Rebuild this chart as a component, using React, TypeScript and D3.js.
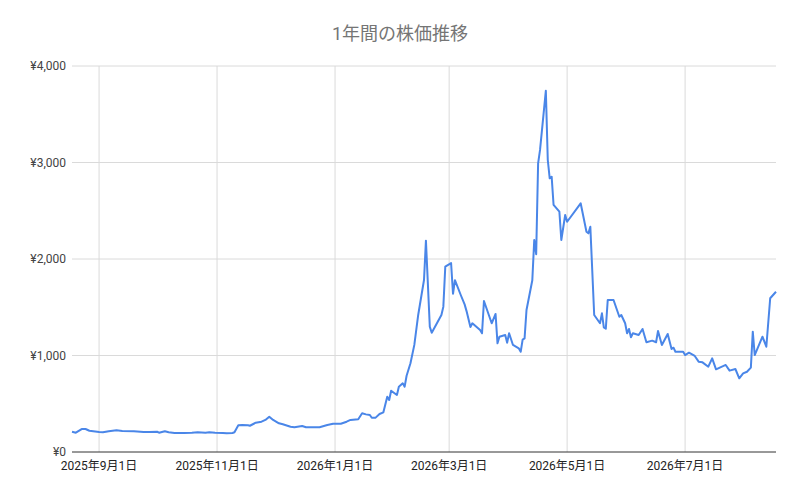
import React, { useEffect, useRef } from "react";
import * as d3 from "d3";

const dates = [
  "2025-08-18", "2025-08-20", "2025-08-23", "2025-08-25", "2025-08-27", "2025-08-29",
  "2025-09-01", "2025-09-03", "2025-09-06", "2025-09-10", "2025-09-13", "2025-09-19",
  "2025-09-24", "2025-09-27", "2025-10-01", "2025-10-02", "2025-10-05", "2025-10-07",
  "2025-10-10", "2025-10-15", "2025-10-19", "2025-10-22", "2025-10-26", "2025-10-28",
  "2025-10-31", "2025-11-04", "2025-11-06", "2025-11-09", "2025-11-10", "2025-11-12",
  "2025-11-14", "2025-11-17", "2025-11-18", "2025-11-21", "2025-11-24", "2025-11-26",
  "2025-11-28", "2025-11-30", "2025-12-03", "2025-12-05", "2025-12-09", "2025-12-11",
  "2025-12-15", "2025-12-17", "2025-12-24", "2025-12-28", "2025-12-31", "2026-01-04",
  "2026-01-07", "2026-01-09", "2026-01-13", "2026-01-15", "2026-01-17", "2026-01-19",
  "2026-01-20", "2026-01-22", "2026-01-24", "2026-01-26", "2026-01-28", "2026-01-29",
  "2026-01-30", "2026-02-02", "2026-02-03", "2026-02-05", "2026-02-06", "2026-02-07",
  "2026-02-09", "2026-02-11", "2026-02-13", "2026-02-16", "2026-02-17", "2026-02-19",
  "2026-02-20", "2026-02-25", "2026-02-26", "2026-02-27", "2026-03-02", "2026-03-03",
  "2026-03-04", "2026-03-07", "2026-03-09", "2026-03-10", "2026-03-12", "2026-03-13",
  "2026-03-17", "2026-03-18", "2026-03-19", "2026-03-23", "2026-03-25", "2026-03-26",
  "2026-03-27", "2026-03-30", "2026-03-31", "2026-04-01", "2026-04-03", "2026-04-06",
  "2026-04-07", "2026-04-08", "2026-04-09", "2026-04-10", "2026-04-13", "2026-04-14",
  "2026-04-15", "2026-04-16", "2026-04-17", "2026-04-20", "2026-04-21", "2026-04-22",
  "2026-04-23", "2026-04-24", "2026-04-27", "2026-04-28", "2026-04-30", "2026-05-01",
  "2026-05-08", "2026-05-11", "2026-05-12", "2026-05-13", "2026-05-15", "2026-05-18",
  "2026-05-19", "2026-05-20", "2026-05-21", "2026-05-22", "2026-05-25", "2026-05-28",
  "2026-05-29", "2026-05-31", "2026-06-01", "2026-06-02", "2026-06-03", "2026-06-04",
  "2026-06-07", "2026-06-09", "2026-06-11", "2026-06-14", "2026-06-16", "2026-06-17",
  "2026-06-19", "2026-06-22", "2026-06-24", "2026-06-25", "2026-06-26", "2026-06-30",
  "2026-07-01", "2026-07-03", "2026-07-06", "2026-07-08", "2026-07-10", "2026-07-13",
  "2026-07-15", "2026-07-17", "2026-07-22", "2026-07-24", "2026-07-27", "2026-07-29",
  "2026-07-31", "2026-08-02", "2026-08-04", "2026-08-05", "2026-08-06", "2026-08-10",
  "2026-08-12", "2026-08-14", "2026-08-17",
];

const prices = [
  210, 200, 238, 238, 220, 215,
  207, 204, 215, 225, 218, 215,
  207, 207, 210, 200, 215, 204,
  197, 197, 200, 204, 200, 204,
  200, 197, 194, 197, 204, 277,
  280, 277, 272, 304, 314, 332,
  366, 332, 297, 287, 262, 256,
  269, 256, 256, 280, 293, 293,
  314, 332, 340, 401, 390, 383,
  355, 356, 394, 411, 573, 539,
  635, 591, 677, 712, 677, 790,
  919, 1110, 1420, 1782, 2190, 1298,
  1236, 1420, 1506, 1920, 1958, 1640,
  1780, 1627, 1530, 1460, 1295, 1334,
  1264, 1230, 1565, 1334, 1430, 1126,
  1195, 1212, 1133, 1230, 1109, 1074,
  1039, 1165, 1178, 1472, 1780, 2197,
  2050, 2992, 3130, 3744, 3026, 2836,
  2853, 2560, 2490, 2197, 2456, 2386,
  2577, 2283, 2266, 2335, 1420, 1334,
  1437, 1290, 1278, 1575, 1575, 1402,
  1420, 1334, 1230, 1275, 1189, 1230,
  1212, 1275, 1137, 1154, 1137, 1254,
  1109, 1223, 1067, 1081, 1039, 1039,
  1005, 1029, 995, 936, 929, 884,
  971, 857, 902, 843, 860, 764,
  815, 832, 874, 1247, 1005, 1195,
  1091, 1593, 1661,
];

const xTicks = ["2025-09-01", "2025-11-01", "2026-01-01", "2026-03-01", "2026-05-01", "2026-07-01"];
const yTicks = [0, 1000, 2000, 3000, 4000];
const title = "1年間の株価推移";

const width = 800;
const height = 494;
const margin = { top: 66, right: 24, bottom: 42, left: 72 };
const font = "Roboto, 'Noto Sans CJK JP', sans-serif";

export default function App() {
  const svgRef = useRef<SVGSVGElement | null>(null);

  useEffect(() => {
    const svg = d3.select(svgRef.current);
    svg.selectAll("*").remove();
    svg.attr("width", width).attr("height", height);

    const parse = d3.utcParse("%Y-%m-%d");
    const data = dates.map((d, i) => ({ date: parse(d) as Date, value: prices[i] }));

    const x = d3
      .scaleUtc()
      .domain([parse("2025-08-18") as Date, parse("2026-08-17") as Date])
      .range([margin.left, width - margin.right]);

    const y = d3
      .scaleLinear()
      .domain([0, 4000])
      .range([height - margin.bottom, margin.top]);

    svg.append("rect").attr("width", width).attr("height", height).attr("fill", "#fff");

    // gridlines
    svg
      .append("g")
      .selectAll("line")
      .data(yTicks.filter((t) => t > 0))
      .join("line")
      .attr("x1", margin.left)
      .attr("x2", width - margin.right)
      .attr("y1", (d) => y(d))
      .attr("y2", (d) => y(d))
      .attr("stroke", "#dadada")
      .attr("stroke-width", 1);

    svg
      .append("g")
      .selectAll("line")
      .data(xTicks)
      .join("line")
      .attr("x1", (d) => x(parse(d) as Date))
      .attr("x2", (d) => x(parse(d) as Date))
      .attr("y1", margin.top)
      .attr("y2", height - margin.bottom)
      .attr("stroke", "#dadada")
      .attr("stroke-width", 1);

    // baseline
    svg
      .append("line")
      .attr("x1", margin.left)
      .attr("x2", width - margin.right)
      .attr("y1", y(0))
      .attr("y2", y(0))
      .attr("stroke", "#333")
      .attr("stroke-width", 1);

    // y labels
    svg
      .append("g")
      .selectAll("text")
      .data(yTicks)
      .join("text")
      .attr("x", margin.left - 6)
      .attr("y", (d) => y(d))
      .attr("dy", "0.35em")
      .attr("text-anchor", "end")
      .attr("font-family", font)
      .attr("font-size", 12)
      .attr("fill", "#444")
      .text((d) => "¥" + d3.format(",")(d));

    // x labels
    svg
      .append("g")
      .selectAll("text")
      .data(xTicks)
      .join("text")
      .attr("x", (d) => x(parse(d) as Date))
      .attr("y", y(0) + 18)
      .attr("text-anchor", "middle")
      .attr("font-family", font)
      .attr("font-size", 12)
      .attr("fill", "#222")
      .text((d) => {
        const dt = parse(d) as Date;
        return `${dt.getUTCFullYear()}年${dt.getUTCMonth() + 1}月${dt.getUTCDate()}日`;
      });

    const line = d3
      .line<{ date: Date; value: number }>()
      .x((d) => x(d.date))
      .y((d) => y(d.value));

    svg
      .append("path")
      .datum(data)
      .attr("fill", "none")
      .attr("stroke", "#4a86e8")
      .attr("stroke-width", 2)
      .attr("stroke-linejoin", "round")
      .attr("d", line);

    svg
      .append("text")
      .attr("x", width / 2)
      .attr("y", 40)
      .attr("text-anchor", "middle")
      .attr("font-family", font)
      .attr("font-size", 18)
      .attr("fill", "#757575")
      .text(title);
  }, []);

  return <svg ref={svgRef} style={{ position: "absolute", left: 0, top: 0 }}></svg>;
}
